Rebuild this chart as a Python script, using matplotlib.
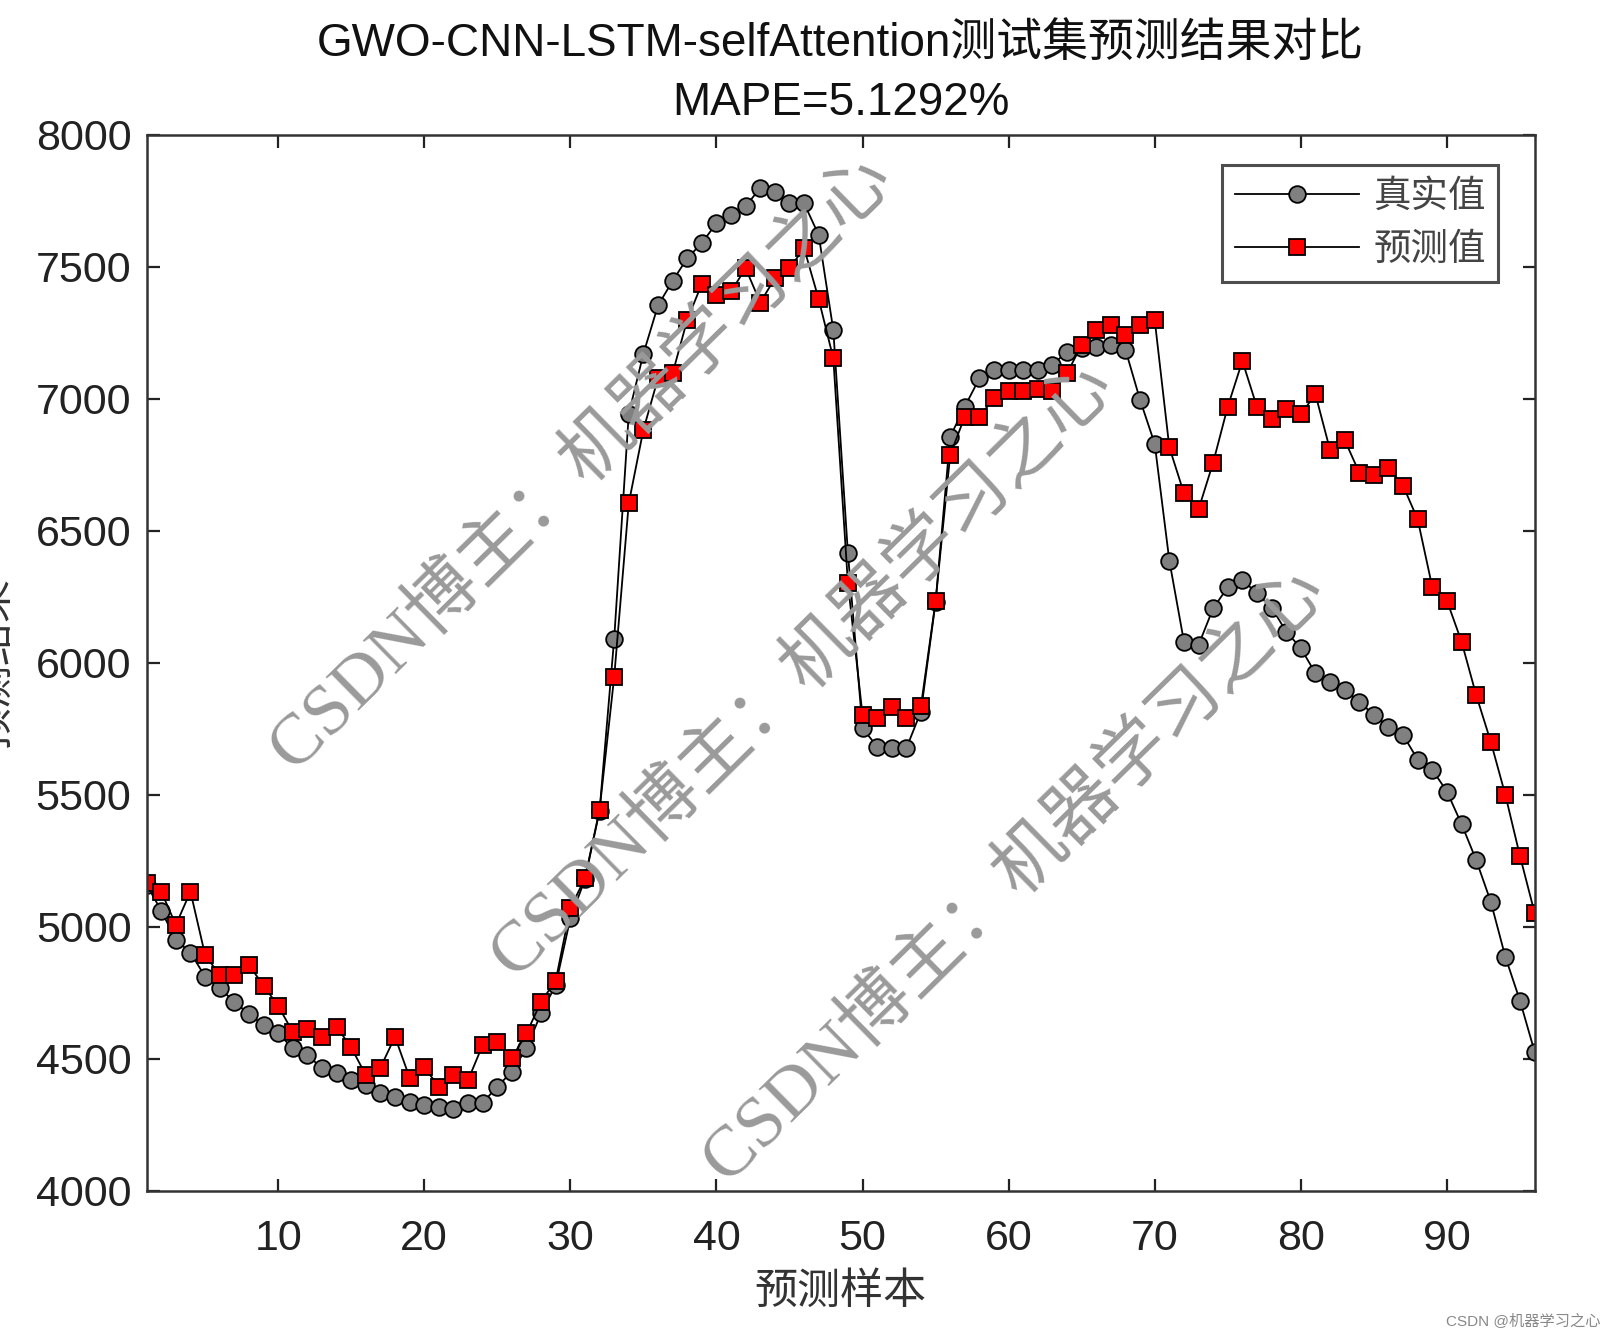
import numpy as np
import matplotlib
matplotlib.use("Agg")
import matplotlib.pyplot as plt

plt.rcParams['font.family'] = ['Liberation Sans', 'Noto Sans CJK SC']
plt.rcParams['axes.unicode_minus'] = False

# sample index 1..96
samples = list(range(1, 97))

# true values (gray circles)
true_vals = [5160, 5062, 4951, 4903, 4812, 4768, 4717, 4670, 4629, 4597,
             4541, 4515, 4465, 4446, 4420, 4401, 4372, 4357, 4338, 4326,
             4319, 4309, 4332, 4334, 4395, 4452, 4541, 4673, 4780, 5033,
             5180, 5440, 6090, 6943, 7171, 7354, 7447, 7533, 7590, 7666,
             7697, 7729, 7800, 7785, 7741, 7741, 7621, 7261, 6416, 5753,
             5683, 5677, 5677, 5816, 6230, 6857, 6971, 7078, 7110, 7110,
             7110, 7110, 7129, 7179, 7192, 7198, 7205, 7186, 6996, 6830,
             6388, 6081, 6068, 6207, 6287, 6314, 6264, 6210, 6119, 6056,
             5961, 5929, 5898, 5853, 5803, 5759, 5727, 5634, 5596, 5513,
             5390, 5254, 5096, 4887, 4721, 4528]

# predicted values (red squares)
pred_vals = [5165, 5134, 5008, 5134, 4894, 4818, 4818, 4856, 4778, 4701,
             4603, 4612, 4582, 4622, 4544, 4439, 4467, 4584, 4429, 4469,
             4395, 4439, 4420, 4553, 4566, 4505, 4597, 4717, 4797, 5071,
             5184, 5443, 5946, 6605, 6883, 7078, 7097, 7299, 7436, 7394,
             7407, 7495, 7365, 7457, 7495, 7571, 7378, 7154, 6302, 5803,
             5791, 5832, 5791, 5837, 6234, 6788, 6933, 6933, 7003, 7032,
             7032, 7037, 7030, 7097, 7205, 7261, 7280, 7242, 7280, 7299,
             6817, 6643, 6582, 6759, 6971, 7144, 6969, 6923, 6961, 6942,
             7018, 6807, 6845, 6721, 6712, 6740, 6671, 6544, 6287, 6236,
             6081, 5879, 5702, 5500, 5269, 5054]

mape = 5.1292
xticks = [10, 20, 30, 40, 50, 60, 70, 80, 90]
yticks = [4000, 4500, 5000, 5500, 6000, 6500, 7000, 7500, 8000]

fig = plt.figure(figsize=(16.15, 13.4), dpi=100, facecolor='white')
ax = fig.add_axes([0.0908, 0.1112, 0.8594, 0.7881])

ax.plot(samples, true_vals, '-', color='k', linewidth=1.3, marker='o',
        markersize=12, markerfacecolor=(0.5, 0.5, 0.5), markeredgecolor='k',
        markeredgewidth=1.3, label='真实值')
ax.plot(samples, pred_vals, '-', color='k', linewidth=1.3, marker='s',
        markersize=11, markerfacecolor='red', markeredgecolor='k',
        markeredgewidth=1.3, label='预测值')

ax.set_xlim(1, 96)
ax.set_ylim(4000, 8000)
ax.set_xticks(xticks)
ax.set_yticks(yticks)
ax.tick_params(direction='in', length=9, width=1.6, top=True, right=True,
               labelsize=31, colors='#222222')
ax.tick_params(axis='x', pad=20)
ax.tick_params(axis='y', pad=11)
for s in ax.spines.values():
    s.set_linewidth(1.8)
    s.set_color('#333333')

ax.set_title('GWO-CNN-LSTM-selfAttention测试集预测结果对比\nMAPE=' + str(mape) + '%',
             fontsize=33, color='#111111', linespacing=1.45, pad=14)
ax.set_xlabel('预测样本', fontsize=31, color='#333333')
ax.xaxis.set_label_coords(0.5, -0.078)
# y label sits mostly outside the figure, as in the original
ax.set_ylabel('预测结果', fontsize=31, color='#333333')
ax.yaxis.set_label_coords(-0.094, 0.5)

leg = ax.legend(loc='upper right', bbox_to_anchor=(0.974, 0.972), borderaxespad=0,
                handlelength=3.3, frameon=True, fancybox=False,
                prop={'family': ['Noto Sans CJK SC'], 'size': 27}, labelspacing=0.38,
                borderpad=0.33, handletextpad=0.4)
leg.get_frame().set_edgecolor('#222222')
leg.get_frame().set_linewidth(2.2)
for t in leg.get_texts():
    t.set_color('#444444')

# watermark
wm = 'CSDN博主：机器学习之心'
for cx, cy in [(0.360, 0.655), (0.497, 0.500), (0.628, 0.347)]:
    fig.text(cx, cy, wm, fontsize=52, color='#9a9a9a', rotation=44.5,
             ha='center', va='center', rotation_mode='anchor', zorder=10,
             family=['Liberation Serif', 'Noto Sans CJK SC'], fontweight='light')

fig.text(0.991, 0.014, 'CSDN @机器学习之心', fontsize=11, color='#888888',
         ha='right', va='center')

fig.savefig('out.png', dpi=100)
